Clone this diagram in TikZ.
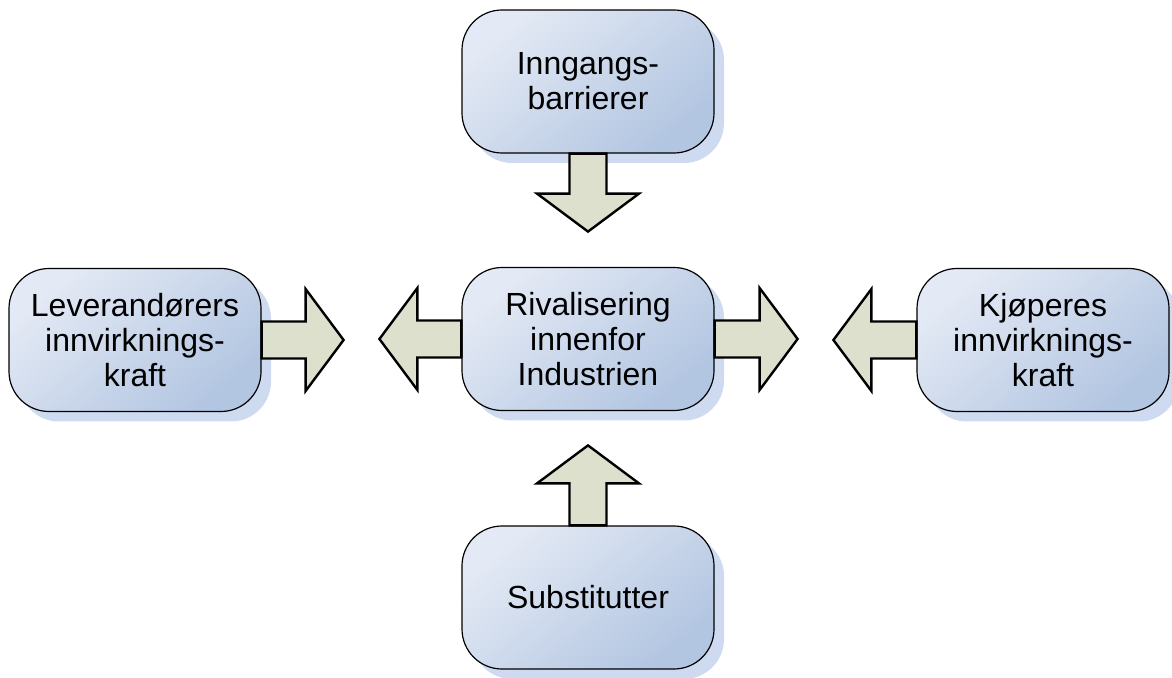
\documentclass[tikz,border=0pt]{standalone}
\usepackage{fontspec}
\setmainfont{Liberation Sans}
\usetikzlibrary{shadows}
\definecolor{boxlight}{RGB}{228,234,245}
\definecolor{boxdark}{RGB}{178,197,225}
\definecolor{shadowblue}{RGB}{206,218,240}
\definecolor{arrowfill}{RGB}{221,224,204}
\tikzset{
  force/.style={draw=black, line width=0.6pt, rounded corners=20pt,
    minimum width=126pt, minimum height=71.5pt, inner sep=0pt,
    top color=boxlight, bottom color=boxdark, shading angle=40,
    align=center, font=\fontsize{16}{17.5}\selectfont,
    general shadow={shadow xshift=5pt, shadow yshift=-5pt, fill=shadowblue}},
  blockarrow/.style={draw=black, line width=1.2pt, fill=arrowfill, line join=miter},
  pics/blockarr/.style={code={
    \draw[blockarrow] (0,-18.5) -- (#1-38,-18.5) -- (#1-38,-51) -- (#1,0)
      -- (#1-38,51) -- (#1-38,18.5) -- (0,18.5) -- cycle;}}
}
\begin{document}
\begin{tikzpicture}[x=0.5pt,y=-0.5pt]
\useasboundingbox (0,0) rectangle (1172,678);
\node[force] (t) at (588,81.5) {Inngangs-\\barrierer};
\node[force] (l) at (135,340) {Leverandørers\\innvirknings-\\kraft};
\node[force] (c) at (588,339) {Rivalisering\\innenfor\\Industrien};
\node[force] (r) at (1043,340) {Kjøperes\\innvirknings-\\kraft};
\node[force] (b) at (588,597.5) {Substitutter};
\pic[rotate=-90] at (t.south) {blockarr=78};
\pic[rotate=90] at (b.north) {blockarr=80};
\pic at (l.east) {blockarr=82};
\pic[rotate=180] at (c.west) {blockarr=82};
\pic at (c.east) {blockarr=83};
\pic[rotate=180] at (r.west) {blockarr=83};
\end{tikzpicture}
\end{document}
